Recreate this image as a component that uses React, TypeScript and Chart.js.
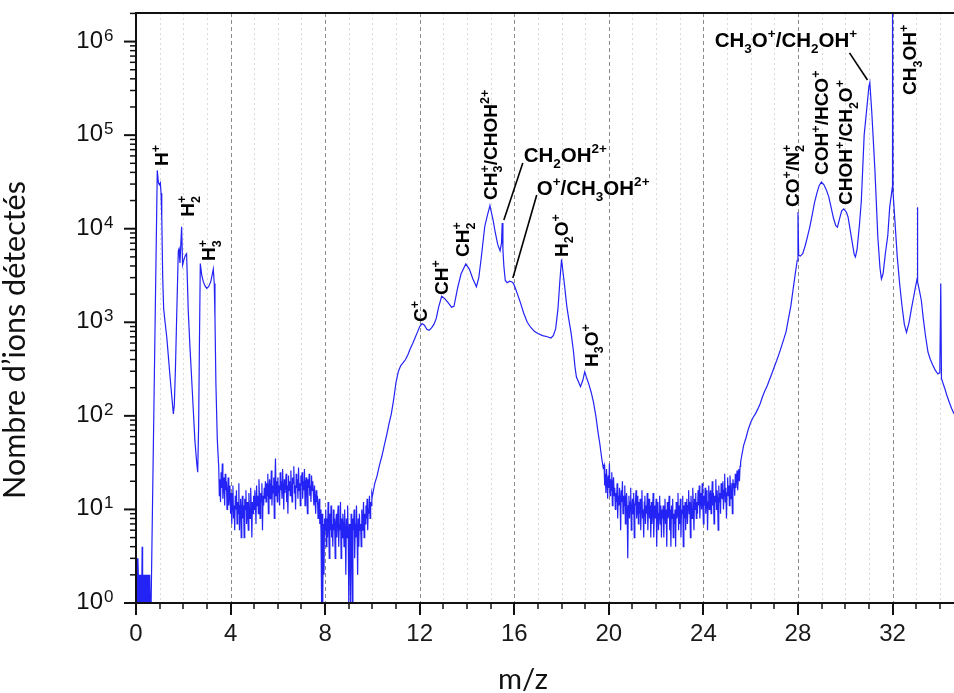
import React, { useEffect, useRef } from "react";
import { Chart, registerables } from "chart.js";

Chart.register(...registerables);

// ---------------- data ----------------
// baseline noise below H+ (regular channel grid)
const lowNoiseStart = 0;
const lowNoiseStep = 0.02;
const lowNoiseCounts = [3, 1, 2, 1, 3, 2, 1, 2, 1, 2, 1, 2, 1, 4, 1, 2, 1, 2, 1, 2, 1, 2, 1, 2, 1, 2, 1, 2, 1, 2, 1];

// H+, H2+, H3+ peaks
const hydrogenMz = [
  0.64, 0.7, 0.76, 0.82, 0.86, 0.9, 0.95, 0.99, 1.03, 1.06, 1.09, 1.13, 1.17, 1.23,
  1.3, 1.37, 1.44, 1.51, 1.58, 1.62, 1.67, 1.72, 1.79, 1.82, 1.86, 1.93, 1.97, 2.03,
  2.09, 2.14, 2.21, 2.28, 2.35, 2.42, 2.49, 2.57, 2.61, 2.65, 2.68, 2.72, 2.78, 2.85,
  2.92, 2.99, 3.07, 3.16, 3.22, 3.27, 3.31, 3.34, 3.38, 3.44,
];
const hydrogenCounts = [
  1, 12, 135, 1600, 8100, 42000, 31000, 29500, 31000, 24000, 13000, 3000, 1400, 1000,
  700, 430, 260, 165, 105, 130, 330, 1140, 5800, 6100, 4300, 10500, 4100, 4700,
  5200, 5400, 1330, 560, 260, 120, 55, 31, 25, 80, 500, 4250, 3200, 2700,
  2450, 2300, 2400, 2700, 3200, 3700, 2600, 1140, 220, 55,
];

// noisy baseline between H3+ and C+
const noiseAStart = 3.5;
const noiseStep = 0.025;
const noiseACounts = [
  28, 14, 21, 12, 25, 17, 31, 13, 19, 22, 11, 24, 16, 20, 10, 15, 22, 11, 14, 18,
  9, 15, 7, 12, 18, 8, 11, 6, 14, 10, 16, 7, 12, 9, 19, 6, 11, 13, 5, 10,
  14, 8, 11, 5, 13, 10, 16, 7, 12, 9, 6, 15, 10, 8, 17, 11, 5, 12, 9, 14,
  10, 16, 12, 7, 18, 11, 14, 9, 21, 13, 8, 15, 12, 19, 6, 14, 11, 17, 13, 20,
  12, 19, 14, 24, 9, 17, 21, 13, 16, 26, 11, 18, 15, 22, 8, 19, 35, 14, 20, 12,
  22, 15, 18, 11, 25, 16, 20, 13, 27, 17, 10, 21, 15, 19, 24, 12, 18, 9, 23, 16,
  20, 14, 26, 17, 12, 22, 19, 29, 15, 18, 10, 24, 17, 21, 13, 28, 16, 19, 11, 23,
  18, 25, 13, 20, 16, 27, 11, 19, 22, 15, 9, 21, 17, 24, 14, 18, 12, 23, 16, 20,
  15, 11, 18, 13, 9, 16, 12, 14, 8, 11, 13, 7, 10, 6, 1, 9, 1, 7, 2, 8,
  6, 10, 4, 8, 5, 12, 7, 3, 9, 6, 11, 5, 7, 4, 10, 6, 8, 3, 7, 9,
  5, 8, 11, 4, 7, 6, 12, 3, 8, 5, 9, 7, 4, 10, 6, 2, 8, 5, 11, 6,
  1, 7, 4, 1, 9, 5, 1, 8, 6, 10, 3, 7, 5, 11, 6, 2, 8, 4, 9, 6,
  7, 4, 10, 6, 8, 12, 5, 9, 7, 11, 8, 13, 6, 10, 9, 14, 8, 12, 11, 15,
];

// C+ ... H3O+
const carbonMz = [
  10.0, 10.1, 10.2, 10.3, 10.4, 10.5, 10.6, 10.7, 10.8, 10.9, 11.0, 11.1, 11.2, 11.3,
  11.4, 11.5, 11.6, 11.7, 11.8, 11.9, 12.0, 12.1, 12.2, 12.3, 12.4, 12.5, 12.6, 12.7,
  12.8, 12.93, 13.05, 13.2, 13.35, 13.45, 13.6, 13.75, 13.95, 14.1, 14.25, 14.4, 14.5,
  14.6, 14.75, 14.85, 14.97, 15.1, 15.2, 15.3, 15.4, 15.46, 15.49, 15.52, 15.56, 15.62,
  15.7, 15.8, 15.9, 15.97, 16.05, 16.15, 16.25, 16.4, 16.55, 16.7, 16.85, 17.0, 17.2,
  17.4, 17.55, 17.65, 17.75, 17.85, 17.93, 18.0, 18.07, 18.14, 18.22, 18.3, 18.4, 18.5,
  18.57, 18.63, 18.72, 18.8, 18.9, 18.98, 19.05, 19.15, 19.25, 19.35, 19.45, 19.55,
  19.62, 19.7, 19.76,
];
const carbonCounts = [
  14, 19, 23, 30, 37, 48, 62, 82, 105, 150, 230, 300, 345, 370,
  400, 450, 520, 590, 680, 780, 900, 970, 930, 840, 820, 870, 950, 1100,
  1450, 1900, 1800, 1620, 1450, 1480, 2300, 3300, 4200, 3700, 2900, 2400, 3000,
  4800, 10500, 13500, 17700, 12500, 9000, 6800, 5800, 7000, 11500, 6000, 4000, 2800,
  2650, 2750, 2700, 2600, 2300, 1950, 1650, 1250, 1000, 880, 800, 760, 720,
  700, 680, 720, 850, 1400, 2800, 4700, 3300, 2300, 1500, 1100, 780, 500,
  330, 260, 230, 205, 240, 295, 260, 220, 180, 140, 100, 65,
  50, 35, 28,
];

// noisy baseline between H3O+ and CO+
const noiseBStart = 19.8;
const noiseBCounts = [
  30, 18, 24, 15, 27, 20, 13, 23, 17, 31, 14, 21, 16, 25, 11, 19, 22, 14, 17, 10,
  15, 12, 19, 8, 14, 11, 17, 13, 6, 16, 12, 20, 9, 14, 11, 18, 7, 13, 15, 10,
  3, 11, 14, 8, 12, 17, 6, 10, 13, 9, 15, 5, 11, 12, 16, 8, 10, 14, 7, 12,
  9, 13, 6, 11, 16, 8, 10, 5, 12, 14, 7, 11, 9, 15, 6, 10, 13, 8, 11, 5,
  12, 7, 10, 15, 5, 9, 11, 8, 13, 4, 10, 12, 6, 9, 14, 7, 11, 5, 10, 8,
  11, 5, 9, 13, 7, 10, 4, 12, 8, 9, 14, 6, 10, 4, 11, 8, 13, 5, 9, 7,
  10, 4, 12, 8, 9, 15, 6, 11, 7, 13, 5, 10, 9, 14, 4, 11, 8, 12, 6, 10,
  13, 7, 11, 16, 9, 12, 5, 14, 10, 8, 17, 11, 6, 13, 10, 15, 8, 12, 9, 16,
  11, 18, 8, 13, 15, 10, 19, 12, 7, 14, 11, 17, 9, 13, 16, 6, 12, 18, 10, 14,
  16, 9, 13, 20, 11, 15, 7, 14, 12, 21, 10, 16, 13, 6, 18, 12, 15, 9, 19, 14,
  13, 20, 10, 16, 24, 12, 17, 8, 15, 22, 14, 18, 11, 23, 16, 13, 19, 9, 21, 17,
  19, 14, 24, 17, 21, 26, 16, 22, 27, 20, 29, 32,
];

// CO+ ... CH3OH+ and beyond
const oxygenMz = [
  25.6, 25.7, 25.8, 25.9, 26.0, 26.1, 26.2, 26.3, 26.4, 26.5, 26.6, 26.7, 26.8, 26.9,
  27.0, 27.1, 27.2, 27.3, 27.4, 27.5, 27.6, 27.7, 27.8, 27.9, 27.97, 28.0, 28.03, 28.1,
  28.2, 28.3, 28.4, 28.5, 28.6, 28.7, 28.8, 28.9, 28.99, 29.1, 29.2, 29.3, 29.4, 29.5,
  29.6, 29.67, 29.75, 29.85, 29.94, 30.05, 30.12, 30.2, 30.3, 30.38, 30.43, 30.5, 30.6,
  30.68, 30.8, 30.9, 31.0, 31.04, 31.12, 31.25, 31.38, 31.47, 31.53, 31.6, 31.7, 31.8,
  31.88, 31.95, 31.99, 32.0, 32.02, 32.09, 32.2, 32.3, 32.4, 32.5, 32.59, 32.7, 32.8,
  32.9, 33.0, 33.04, 33.05, 33.07, 33.15, 33.22, 33.3, 33.4, 33.5, 33.6, 33.7, 33.8,
  33.92, 34.0, 34.04, 34.07, 34.2, 34.3, 34.4, 34.5, 34.6,
];
const oxygenCounts = [
  35, 48, 58, 72, 85, 96, 105, 118, 135, 160, 185, 210, 245, 285,
  335, 390, 460, 550, 660, 800, 1100, 1500, 2300, 3500, 4600, 15000, 5200, 5100,
  5400, 6500, 8200, 10400, 14000, 19000, 24000, 29000, 31500, 29500, 26000, 22000, 17000, 13000,
  10800, 10400, 12500, 15500, 16300, 15000, 13300, 10000, 7000, 5300, 5000, 6000, 11000,
  19800, 100000, 180000, 330000, 365000, 180000, 45000, 8000, 3800, 2900, 3300, 5500, 8500,
  17000, 23000, 27700, 3000000, 25000, 13300, 5000, 2600, 1500, 950, 780, 1000, 1400,
  1900, 2600, 2900, 17000, 2700, 2100, 1700, 1100, 700, 480, 400, 350, 310,
  280, 290, 2600, 250, 200, 165, 140, 120, 105,
];

// axes
const xMajorTicks = [0, 4, 8, 12, 16, 20, 24, 28, 32];
const xGridValues = [1, 2, 3, 4, 5, 6, 7, 8, 9, 10, 11, 12, 13, 14, 15, 16, 17, 18, 19, 20, 21, 22, 23, 24, 25, 26, 27, 28, 29, 30, 31, 32, 33, 34];
const yDecades = [0, 1, 2, 3, 4, 5, 6];
const yMinorFactors = [2, 3, 4, 5, 6, 7, 8, 9];
const xTitle = "m/z";
const yTitle = "Nombre d\u2019ions détectés";

// peak annotations (anchor in data coordinates)
const peakLabels = [
  { text: "H^{+}", mz: 1.353, count: 46900, rotated: true },
  { text: "H_{2}^{+}", mz: 2.452, count: 13400, rotated: true },
  { text: "H_{3}^{+}", mz: 3.34, count: 4520, rotated: true },
  { text: "C^{+}", mz: 12.3, count: 1010, rotated: true },
  { text: "CH^{+}", mz: 13.19, count: 1960, rotated: true },
  { text: "CH_{2}^{+}", mz: 14.08, count: 4990, rotated: true },
  { text: "CH_{3}^{+}/CHOH^{2+}", mz: 15.26, count: 20300, rotated: true },
  { text: "H_{2}O^{+}", mz: 18.26, count: 4990, rotated: true },
  { text: "H_{3}O^{+}", mz: 19.53, count: 333, rotated: true },
  { text: "CO^{+}/N_{2}^{+}", mz: 28.03, count: 17100, rotated: true },
  { text: "COH^{+}/HCO^{+}", mz: 29.25, count: 37600, rotated: true },
  { text: "CHOH^{+}/CH_{2}O^{+}", mz: 30.3, count: 17900, rotated: true },
  { text: "CH_{3}OH^{+}", mz: 33.01, count: 269000, rotated: true },
  { text: "CH_{2}OH^{2+}", mz: 16.4, count: 51700, rotated: false },
  { text: "O^{+}/CH_{3}OH^{2+}", mz: 16.95, count: 22900, rotated: false },
  { text: "CH_{3}O^{+}/CH_{2}OH^{+}", mz: 24.48, count: 877000, rotated: false },
];
const leaderLines = [
  { fromMz: 16.36, fromCount: 50400, toMz: 15.56, toCount: 12400 },
  { fromMz: 16.95, fromCount: 22900, toMz: 15.94, toCount: 2980 },
  { fromMz: 30.18, fromCount: 757000, toMz: 30.94, toCount: 389000 },
];

// ---------------- assemble ----------------
function buildPoints() {
  const pts: { x: number; y: number }[] = [];
  lowNoiseCounts.forEach((c, i) => pts.push({ x: lowNoiseStart + i * lowNoiseStep, y: c }));
  hydrogenMz.forEach((m, i) => pts.push({ x: m, y: hydrogenCounts[i] }));
  noiseACounts.forEach((c, i) => pts.push({ x: noiseAStart + i * noiseStep, y: c }));
  carbonMz.forEach((m, i) => pts.push({ x: m, y: carbonCounts[i] }));
  noiseBCounts.forEach((c, i) => pts.push({ x: noiseBStart + i * noiseStep, y: c }));
  oxygenMz.forEach((m, i) => pts.push({ x: m, y: oxygenCounts[i] }));
  return pts;
}

const ANN_FONT = '"Liberation Sans", Arial, sans-serif';

function parseRich(s: string) {
  const out: { t: string; k: "n" | "b" | "p" }[] = [];
  let i = 0;
  let buf = "";
  while (i < s.length) {
    const c = s[i];
    if ((c === "_" || c === "^") && s[i + 1] === "{") {
      if (buf) {
        out.push({ t: buf, k: "n" });
        buf = "";
      }
      const end = s.indexOf("}", i);
      out.push({ t: s.slice(i + 2, end), k: c === "_" ? "b" : "p" });
      i = end + 1;
    } else {
      buf += c;
      i++;
    }
  }
  if (buf) out.push({ t: buf, k: "n" });
  return out;
}

function drawRich(ctx: CanvasRenderingContext2D, s: string, size: number, small: number) {
  const toks = parseRich(s);
  let cx = 0;
  const off = (k: string) => (k === "b" ? size * 0.3 : -size * 0.42);
  for (let i = 0; i < toks.length; i++) {
    const tk = toks[i];
    if (tk.k === "n") {
      ctx.font = `bold ${size}px ${ANN_FONT}`;
      ctx.fillText(tk.t, cx, 0);
      cx += ctx.measureText(tk.t).width;
    } else {
      ctx.font = `bold ${small}px ${ANN_FONT}`;
      const w1 = ctx.measureText(tk.t).width;
      ctx.fillText(tk.t, cx, off(tk.k));
      const nx = toks[i + 1];
      if (nx && nx.k !== "n" && nx.k !== tk.k) {
        const w2 = ctx.measureText(nx.t).width;
        ctx.fillText(nx.t, cx, off(nx.k));
        cx += Math.max(w1, w2);
        i++;
      } else {
        cx += w1;
      }
    }
  }
}

const decoPlugin = {
  id: "deco",
  beforeDatasetsDraw(chart: any) {
    const { ctx, chartArea: a, scales } = chart;
    const x = scales.x;
    ctx.save();
    ctx.lineWidth = 1;
    xGridValues.forEach((v) => {
      const px = Math.round(x.getPixelForValue(v)) + 0.5;
      const major = v % 4 === 0;
      ctx.strokeStyle = major ? "#8c8c8c" : "#d9d9d9";
      ctx.setLineDash(major ? [4, 3] : [2, 3]);
      ctx.beginPath();
      ctx.moveTo(px, a.top);
      ctx.lineTo(px, a.bottom);
      ctx.stroke();
    });
    ctx.restore();
  },
  afterDatasetsDraw(chart: any) {
    const { ctx, chartArea: a, scales } = chart;
    const x = scales.x;
    const y = scales.y;
    ctx.save();
    ctx.strokeStyle = "#111";
    ctx.fillStyle = "#111";
    // frame lines
    ctx.lineWidth = 2;
    ctx.beginPath();
    ctx.moveTo(a.left, a.top - 1);
    ctx.lineTo(a.left, a.bottom + 1);
    ctx.moveTo(a.left - 1, a.bottom);
    ctx.lineTo(a.right, a.bottom);
    ctx.moveTo(a.left - 1, a.top);
    ctx.lineTo(a.right, a.top);
    ctx.stroke();
    // x ticks
    [0, ...xGridValues].forEach((v) => {
      const px = Math.round(x.getPixelForValue(v));
      const major = v % 4 === 0;
      ctx.lineWidth = major ? 2 : 1.5;
      ctx.beginPath();
      ctx.moveTo(px, a.bottom);
      ctx.lineTo(px, a.bottom + (major ? 12 : 6));
      ctx.stroke();
    });
    // y ticks
    const yMax = y.max;
    yDecades.forEach((d) => {
      const base = Math.pow(10, d);
      const py = y.getPixelForValue(base);
      ctx.lineWidth = 2;
      ctx.beginPath();
      ctx.moveTo(a.left - 12, py);
      ctx.lineTo(a.left, py);
      ctx.stroke();
      yMinorFactors.forEach((f) => {
        const v = f * base;
        if (v > yMax) return;
        const pm = y.getPixelForValue(v);
        ctx.lineWidth = 1.5;
        ctx.beginPath();
        ctx.moveTo(a.left - 6, pm);
        ctx.lineTo(a.left, pm);
        ctx.stroke();
      });
      // labels 10^d
      ctx.textBaseline = "alphabetic";
      ctx.textAlign = "right";
      ctx.font = `24px ${ANN_FONT}`;
      ctx.fillText("10", 103, py + 6);
      ctx.textAlign = "left";
      ctx.font = `17px ${ANN_FONT}`;
      ctx.fillText(String(d), 104, py - 1);
    });
    // axis titles
    ctx.textAlign = "center";
    ctx.textBaseline = "alphabetic";
    ctx.font = `26px Lato, "Open Sans", sans-serif`;
    let w = ctx.measureText(yTitle).width;
    const ySize = (26 * 318) / w;
    ctx.font = `${ySize}px Lato, "Open Sans", sans-serif`;
    ctx.save();
    ctx.translate(25, 340);
    ctx.rotate(-Math.PI / 2);
    ctx.fillText(yTitle, 0, 0);
    ctx.restore();
    ctx.font = `30px Lato, "Open Sans", sans-serif`;
    w = ctx.measureText(xTitle).width;
    const xSize = (30 * 50) / w;
    ctx.font = `${xSize}px Lato, "Open Sans", sans-serif`;
    ctx.fillText(xTitle, 523, 689);
    // annotations
    ctx.textAlign = "left";
    ctx.fillStyle = "#000";
    peakLabels.forEach((lb) => {
      const px = x.getPixelForValue(lb.mz);
      const py = y.getPixelForValue(lb.count);
      ctx.save();
      ctx.translate(px, py);
      if (lb.rotated) {
        ctx.rotate(-Math.PI / 2);
        drawRich(ctx, lb.text, 19, 12.5);
      } else {
        drawRich(ctx, lb.text, 20.5, 13.5);
      }
      ctx.restore();
    });
    ctx.strokeStyle = "#000";
    ctx.lineWidth = 1.6;
    leaderLines.forEach((l) => {
      ctx.beginPath();
      ctx.moveTo(x.getPixelForValue(l.fromMz), y.getPixelForValue(l.fromCount));
      ctx.lineTo(x.getPixelForValue(l.toMz), y.getPixelForValue(l.toCount));
      ctx.stroke();
    });
    ctx.restore();
  },
};

export default function App() {
  const ref = useRef<HTMLCanvasElement>(null);
  useEffect(() => {
    if (!ref.current) return;
    const chart = new Chart(ref.current, {
      type: "line",
      data: {
        datasets: [
          {
            data: buildPoints(),
            borderColor: "rgb(35,35,245)",
            borderWidth: 1.2,
            pointRadius: 0,
            tension: 0,
            fill: false,
          },
        ],
      },
      options: {
        animation: false,
        responsive: false,
        devicePixelRatio: 1,
        layout: { padding: { top: 13, left: 0, right: 0, bottom: 0 } },
        plugins: { legend: { display: false }, tooltip: { enabled: false } },
        scales: {
          x: {
            type: "linear",
            min: 0,
            max: 34.6,
            afterFit: (s: any) => {
              s.height = 90;
            },
            afterBuildTicks: (s: any) => {
              s.ticks = xMajorTicks.map((v) => ({ value: v }));
            },
            grid: { display: false, drawTicks: false },
            border: { display: false },
            ticks: {
              font: { family: ANN_FONT, size: 24 },
              color: "#1a1a1a",
              padding: 17,
              maxRotation: 0,
              autoSkip: false,
              callback: (v: any) => String(v),
            },
          },
          y: {
            type: "logarithmic",
            min: 1,
            max: 2.02e6,
            afterFit: (s: any) => {
              s.width = 136;
            },
            grid: { display: false, drawTicks: false },
            border: { display: false },
            ticks: { display: false },
          },
        },
      },
      plugins: [decoPlugin],
    } as any);
    return () => chart.destroy();
  }, []);
  return (
    <div style={{ position: "fixed", left: 0, top: 0, width: 954, height: 693, background: "#fff" }}>
      <canvas ref={ref} width={954} height={693} style={{ display: "block" }} />
    </div>
  );
}
